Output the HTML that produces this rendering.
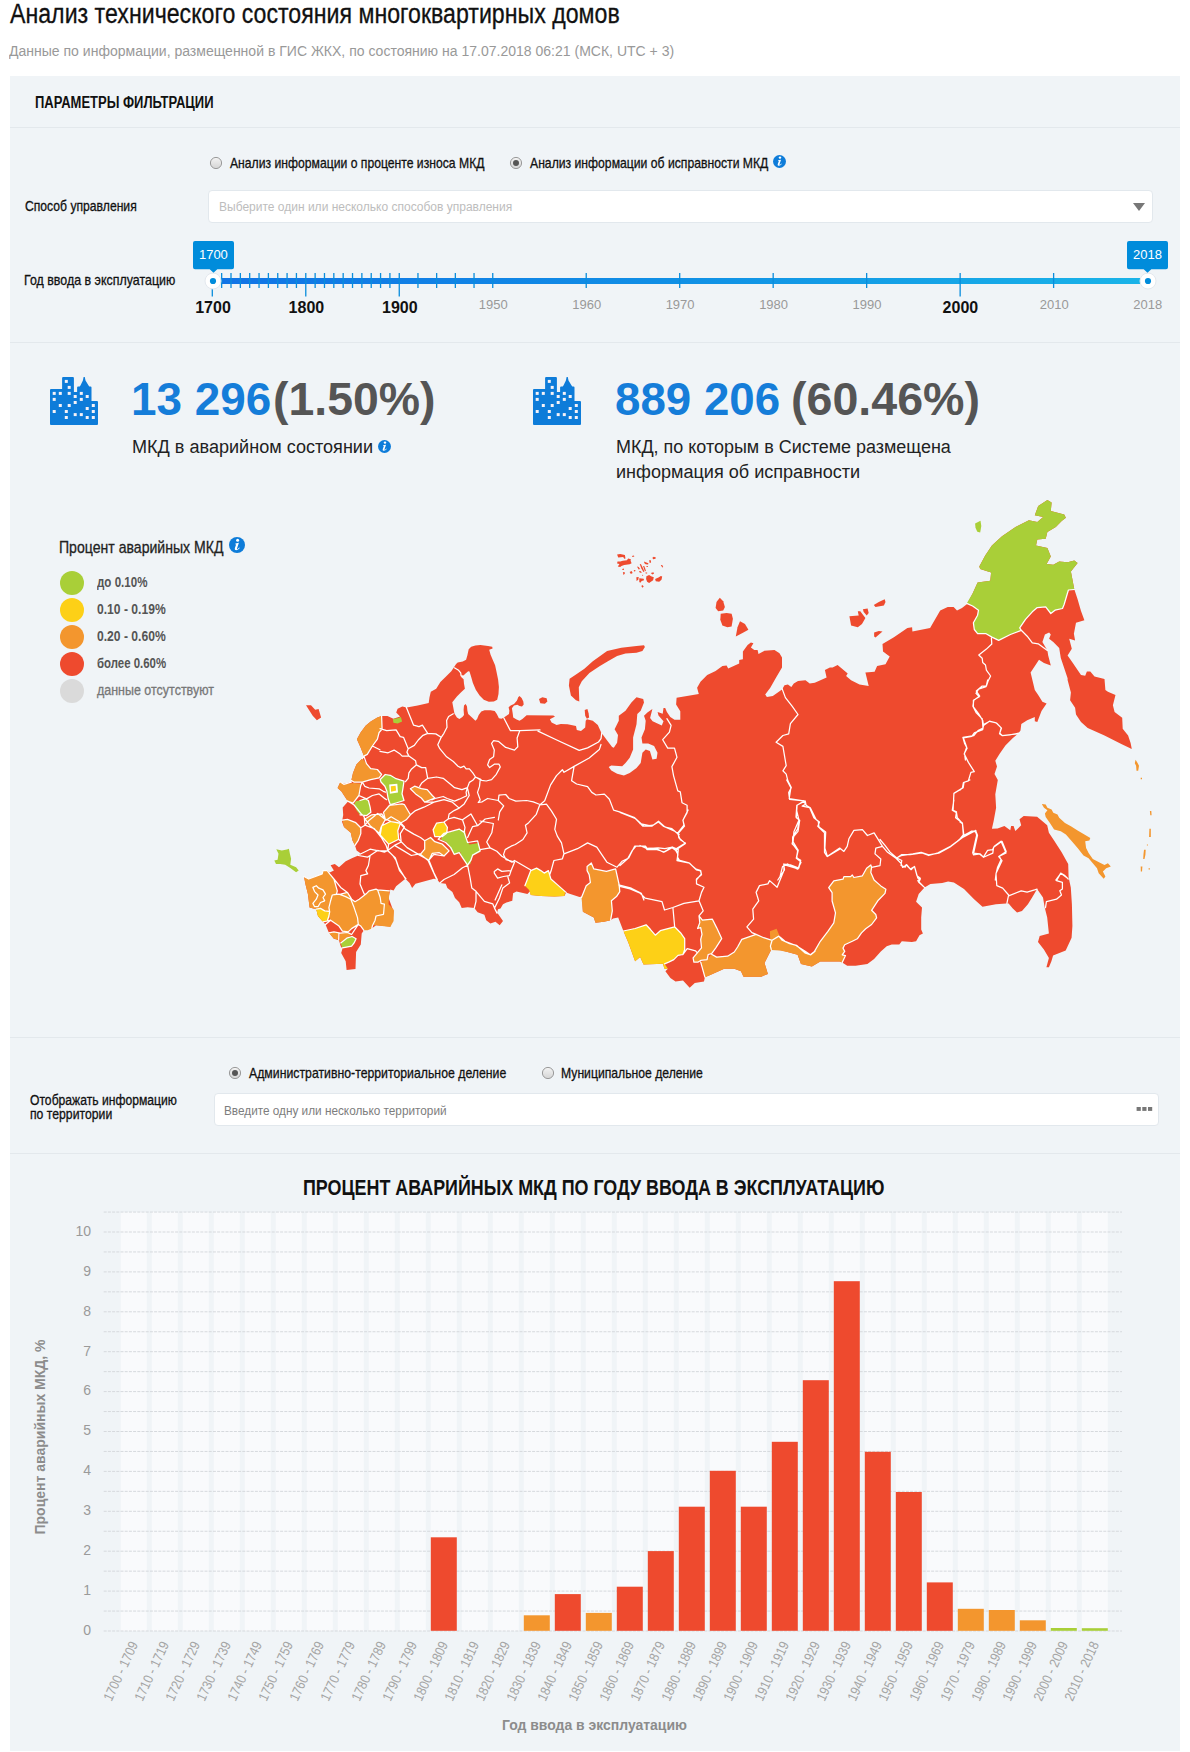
<!DOCTYPE html>
<html lang="ru"><head><meta charset="utf-8"><title>Анализ технического состояния многоквартирных домов</title>
<style>
html,body{margin:0;padding:0;background:#fff;}
body{width:1190px;height:1752px;position:relative;overflow:hidden;font-family:"Liberation Sans",sans-serif;}
.abs{position:absolute;display:block;}
.t{position:absolute;white-space:nowrap;line-height:1;display:block;}
.panel{position:absolute;left:10px;top:76px;width:1170px;height:1675px;background:#f0f4f7;}
.hr{position:absolute;left:10px;width:1170px;height:1px;background:#e3e8ec;}
.box{position:absolute;background:#fff;border:1px solid #e2e8ed;border-radius:4px;box-sizing:border-box;}
</style></head><body>
<div class="panel"></div>
<div class="hr" style="top:127px"></div>
<div class="hr" style="top:342px"></div>
<div class="hr" style="top:1037px"></div>
<div class="hr" style="top:1153px"></div>
<div class="box" style="left:208px;top:190px;width:945px;height:33px"></div>
<svg class="abs" style="left:1132px;top:202px" width="14" height="10" viewBox="0 0 14 10"><path d="M1 1h12L7 9z" fill="#777"/></svg>
<div class="box" style="left:214px;top:1093px;width:945px;height:33px"></div>
<svg class="abs" style="left:1136px;top:1106px" width="18" height="6" viewBox="0 0 18 6"><rect x="0.600" y="1" width="4.200" height="3.900" fill="#777"/><rect x="6.300" y="1" width="4.200" height="3.900" fill="#777"/><rect x="12" y="1" width="4.200" height="3.900" fill="#777"/></svg>
<svg class="abs" style="left:208.9px;top:156.4px" width="14" height="14" viewBox="0 0 14 14"><defs><linearGradient id="rg215" x1="0" y1="0" x2="0" y2="1"><stop offset="0" stop-color="#f4f4f4"/><stop offset="1" stop-color="#d4d4d4"/></linearGradient></defs><circle cx="7" cy="7" r="5.600" fill="url(#rg215)" stroke="#9a9a9a" stroke-width="1"/></svg><svg class="abs" style="left:508.9px;top:156.4px" width="14" height="14" viewBox="0 0 14 14"><defs><linearGradient id="rg515" x1="0" y1="0" x2="0" y2="1"><stop offset="0" stop-color="#f4f4f4"/><stop offset="1" stop-color="#d4d4d4"/></linearGradient></defs><circle cx="7" cy="7" r="5.600" fill="url(#rg515)" stroke="#9a9a9a" stroke-width="1"/><circle cx="7" cy="7" r="3" fill="#555"/></svg><svg class="abs" style="left:228.0px;top:1066.4px" width="14" height="14" viewBox="0 0 14 14"><defs><linearGradient id="rg235" x1="0" y1="0" x2="0" y2="1"><stop offset="0" stop-color="#f4f4f4"/><stop offset="1" stop-color="#d4d4d4"/></linearGradient></defs><circle cx="7" cy="7" r="5.600" fill="url(#rg235)" stroke="#9a9a9a" stroke-width="1"/><circle cx="7" cy="7" r="3" fill="#555"/></svg><svg class="abs" style="left:541.0px;top:1066.4px" width="14" height="14" viewBox="0 0 14 14"><defs><linearGradient id="rg548" x1="0" y1="0" x2="0" y2="1"><stop offset="0" stop-color="#f4f4f4"/><stop offset="1" stop-color="#d4d4d4"/></linearGradient></defs><circle cx="7" cy="7" r="5.600" fill="url(#rg548)" stroke="#9a9a9a" stroke-width="1"/></svg>
<svg class="abs" style="left:772.8px;top:154.6px" width="13.0" height="13.0" viewBox="0 0 16 16"><circle cx="8" cy="8" r="8" fill="#0e7cd9"/><circle cx="8.600" cy="3.200" r="1.500" fill="#fff"/><path d="M6.400 6.600L9.900 5.700 8 11.400Q7.800 12.200 8.600 12 9.400 11.600 10.300 10.600L10.800 11.100Q9.200 13.200 7.200 13.300 5.300 13.200 5.800 11.300L7.200 7.300 6.300 7.400Z" fill="#fff"/></svg><svg class="abs" style="left:377.9px;top:439.5px" width="13.0" height="13.0" viewBox="0 0 16 16"><circle cx="8" cy="8" r="8" fill="#0e7cd9"/><circle cx="8.600" cy="3.200" r="1.500" fill="#fff"/><path d="M6.400 6.600L9.900 5.700 8 11.400Q7.800 12.200 8.600 12 9.400 11.600 10.300 10.600L10.800 11.100Q9.200 13.200 7.200 13.300 5.300 13.200 5.800 11.300L7.200 7.300 6.300 7.400Z" fill="#fff"/></svg><svg class="abs" style="left:228.6px;top:537.0px" width="16" height="16" viewBox="0 0 16 16"><circle cx="8" cy="8" r="8" fill="#0e7cd9"/><circle cx="8.600" cy="3.200" r="1.500" fill="#fff"/><path d="M6.400 6.600L9.900 5.700 8 11.400Q7.800 12.200 8.600 12 9.400 11.600 10.300 10.600L10.800 11.100Q9.200 13.200 7.200 13.300 5.300 13.200 5.800 11.300L7.200 7.300 6.300 7.400Z" fill="#fff"/></svg>
<svg class="abs" style="left:0;top:230px" width="1190" height="100" viewBox="0 230 1190 100"><defs><linearGradient id="trk" x1="0" y1="0" x2="1" y2="0"><stop offset="0" stop-color="#1273e6"/><stop offset="0.5" stop-color="#1090e5"/><stop offset="1" stop-color="#1ab4e8"/></linearGradient></defs><rect x="212.3" y="278" width="935.7" height="6" fill="url(#trk)"/><rect x="211.65" y="273" width="1.3" height="23.5" fill="#0a8ddc"/><rect x="221.00" y="273" width="1.3" height="15" fill="#0a8ddc"/><rect x="230.35" y="273" width="1.3" height="15" fill="#0a8ddc"/><rect x="239.69" y="273" width="1.3" height="15" fill="#0a8ddc"/><rect x="249.04" y="273" width="1.3" height="15" fill="#0a8ddc"/><rect x="258.39" y="273" width="1.3" height="15" fill="#0a8ddc"/><rect x="267.74" y="273" width="1.3" height="15" fill="#0a8ddc"/><rect x="277.09" y="273" width="1.3" height="15" fill="#0a8ddc"/><rect x="286.43" y="273" width="1.3" height="15" fill="#0a8ddc"/><rect x="295.78" y="273" width="1.3" height="15" fill="#0a8ddc"/><rect x="305.13" y="273" width="1.3" height="23.5" fill="#0a8ddc"/><rect x="314.48" y="273" width="1.3" height="15" fill="#0a8ddc"/><rect x="323.83" y="273" width="1.3" height="15" fill="#0a8ddc"/><rect x="333.17" y="273" width="1.3" height="15" fill="#0a8ddc"/><rect x="342.52" y="273" width="1.3" height="15" fill="#0a8ddc"/><rect x="351.87" y="273" width="1.3" height="15" fill="#0a8ddc"/><rect x="361.22" y="273" width="1.3" height="15" fill="#0a8ddc"/><rect x="370.57" y="273" width="1.3" height="15" fill="#0a8ddc"/><rect x="379.91" y="273" width="1.3" height="15" fill="#0a8ddc"/><rect x="389.26" y="273" width="1.3" height="15" fill="#0a8ddc"/><rect x="398.61" y="273" width="1.3" height="23.5" fill="#0a8ddc"/><rect x="417.31" y="273" width="1.3" height="15" fill="#0a8ddc"/><rect x="436.00" y="273" width="1.3" height="15" fill="#0a8ddc"/><rect x="454.70" y="273" width="1.3" height="15" fill="#0a8ddc"/><rect x="473.39" y="273" width="1.3" height="15" fill="#0a8ddc"/><rect x="492.09" y="273" width="1.3" height="15" fill="#0a8ddc"/><rect x="585.57" y="273" width="1.3" height="15" fill="#0a8ddc"/><rect x="679.05" y="273" width="1.3" height="15" fill="#0a8ddc"/><rect x="772.53" y="273" width="1.3" height="15" fill="#0a8ddc"/><rect x="866.01" y="273" width="1.3" height="15" fill="#0a8ddc"/><rect x="959.49" y="273" width="1.3" height="23.5" fill="#0a8ddc"/><rect x="1052.97" y="273" width="1.3" height="15" fill="#0a8ddc"/><rect x="1146.45" y="273" width="1.3" height="15" fill="#0a8ddc"/><circle cx="213" cy="281" r="8" fill="#fff" stroke="#e3e8ee" stroke-width="1"/><circle cx="213" cy="281" r="3.1" fill="#008cdb"/><circle cx="1148" cy="281" r="8" fill="#fff" stroke="#e3e8ee" stroke-width="1"/><circle cx="1148" cy="281" r="3.1" fill="#008cdb"/><path d="M195 241h37a2 2 0 0 1 2 2v24.200a2 2 0 0 1-2 2h-14.700l-3.800 3.600-3.800-3.600h-14.700a2 2 0 0 1-2-2v-24.200a2 2 0 0 1 2-2z" fill="#008cdb"/><path d="M1129 241h37a2 2 0 0 1 2 2v24.200a2 2 0 0 1-2 2h-14.700l-3.800 3.600-3.800-3.600h-14.700a2 2 0 0 1-2-2v-24.200a2 2 0 0 1 2-2z" fill="#008cdb"/></svg>
<svg class="abs" style="left:49.9px;top:377px" width="48" height="48" viewBox="0 0 48 48"><path fill="#0e7cd9" d="M1 48a1 1 0 0 1-1-1V13.100a1 1 0 0 1 1-1h11.100V1a1 1 0 0 1 1-1h9.800a1 1 0 0 1 1 1v14h3.200V10.400a1 1 0 0 1 1-1h1.600l.9-1.200 2.300-4.700.7-3.500h1.200l.7 3.500 2.900 4.700.9 1.200h1.200a1 1 0 0 1 1 1v13.700h5.500a1 1 0 0 1 1 1V47a1 1 0 0 1-1 1z"/><g fill="#f6f2f7"><rect x="14.8" y="2.9" width="3" height="3"/><rect x="17.7" y="8.9" width="3" height="3"/><rect x="2.7" y="14.9" width="3" height="3"/><rect x="8.8" y="14.9" width="3" height="3"/><rect x="17.7" y="14.9" width="3" height="3"/><rect x="29.8" y="14.9" width="3" height="3"/><rect x="23.7" y="18.0" width="3" height="3"/><rect x="35.7" y="18.0" width="3" height="3"/><rect x="2.7" y="20.9" width="3" height="3"/><rect x="29.8" y="20.9" width="3" height="3"/><rect x="23.7" y="24.0" width="3" height="3"/><rect x="8.8" y="27.0" width="3" height="3"/><rect x="17.7" y="27.0" width="3" height="3"/><rect x="41.8" y="27.0" width="3" height="3"/><rect x="35.7" y="30.0" width="3" height="3"/><rect x="2.7" y="33.0" width="3" height="3"/><rect x="14.8" y="33.0" width="3" height="3"/><rect x="41.8" y="33.0" width="3" height="3"/><rect x="23.7" y="36.1" width="3" height="3"/><rect x="29.8" y="36.1" width="3" height="3"/><rect x="14.8" y="39.0" width="3" height="3"/><rect x="35.7" y="39.0" width="3" height="3"/><rect x="41.8" y="39.0" width="3" height="3"/></g></svg><svg class="abs" style="left:533.3px;top:377px" width="48" height="48" viewBox="0 0 48 48"><path fill="#0e7cd9" d="M1 48a1 1 0 0 1-1-1V13.100a1 1 0 0 1 1-1h11.100V1a1 1 0 0 1 1-1h9.800a1 1 0 0 1 1 1v14h3.200V10.400a1 1 0 0 1 1-1h1.600l.9-1.200 2.300-4.700.7-3.500h1.200l.7 3.500 2.900 4.700.9 1.200h1.200a1 1 0 0 1 1 1v13.700h5.500a1 1 0 0 1 1 1V47a1 1 0 0 1-1 1z"/><g fill="#f6f2f7"><rect x="14.8" y="2.9" width="3" height="3"/><rect x="17.7" y="8.9" width="3" height="3"/><rect x="2.7" y="14.9" width="3" height="3"/><rect x="8.8" y="14.9" width="3" height="3"/><rect x="17.7" y="14.9" width="3" height="3"/><rect x="29.8" y="14.9" width="3" height="3"/><rect x="23.7" y="18.0" width="3" height="3"/><rect x="35.7" y="18.0" width="3" height="3"/><rect x="2.7" y="20.9" width="3" height="3"/><rect x="29.8" y="20.9" width="3" height="3"/><rect x="23.7" y="24.0" width="3" height="3"/><rect x="8.8" y="27.0" width="3" height="3"/><rect x="17.7" y="27.0" width="3" height="3"/><rect x="41.8" y="27.0" width="3" height="3"/><rect x="35.7" y="30.0" width="3" height="3"/><rect x="2.7" y="33.0" width="3" height="3"/><rect x="14.8" y="33.0" width="3" height="3"/><rect x="41.8" y="33.0" width="3" height="3"/><rect x="23.7" y="36.1" width="3" height="3"/><rect x="29.8" y="36.1" width="3" height="3"/><rect x="14.8" y="39.0" width="3" height="3"/><rect x="35.7" y="39.0" width="3" height="3"/><rect x="41.8" y="39.0" width="3" height="3"/></g></svg>
<div class="abs" style="left:60px;top:571.0px;width:24px;height:24px;border-radius:50%;background:#a9cf38"></div><div class="abs" style="left:60px;top:598.0px;width:24px;height:24px;border-radius:50%;background:#fdd017"></div><div class="abs" style="left:60px;top:625.0px;width:24px;height:24px;border-radius:50%;background:#f3962e"></div><div class="abs" style="left:60px;top:652.0px;width:24px;height:24px;border-radius:50%;background:#ee4a2e"></div><div class="abs" style="left:60px;top:679.0px;width:24px;height:24px;border-radius:50%;background:#dadada"></div>
<svg class="abs" style="left:0;top:490px" width="1190" height="520" viewBox="0 490 1190 520"><path d="M456.1,664 L457.7,662.4 L462.8,661.5 L466.1,659.8 L467.4,655.2 L468.7,649.3 L471.2,646.8 L475.4,645.4 L480.4,645.1 L488,646 L492.2,646.8 L492.6,648.5 L489.2,649.7 L490.5,654.4 L492.6,659.4 L495.1,665.3 L496.4,671.2 L498.1,679.6 L498.9,687.1 L498.5,693.9 L497.2,699.7 L493.9,701.4 L488.8,701.8 L483.8,699.7 L479.6,695.5 L475.8,689.7 L472.9,682.9 L471.2,677.1 L469.5,671.6 L468.2,671.2 L465.3,673.7 L463.2,675.8 L461.5,675.4 L461.1,677.1 L463.6,679.2 L464,683.8 L464.9,688.8 L461.1,692.2 L456.9,696.4 L452.3,702.3 L453.1,706.5 L453.9,710.7 L454.4,713.6 L456.9,717.4 L459.4,719.1 L462.4,717 L464,714.9 L463.6,709.8 L464,705.6 L465.7,703.9 L467,706.5 L467.4,710.7 L468.2,714 L472,717.4 L475.4,720.8 L477.1,719.1 L478.7,714.9 L481.3,711.5 L484.6,710.3 L490.5,710.3 L494.7,711.1 L496.8,714 L498.9,718.2 L501.4,718.7 L503.9,717.4 L509,714 L509.4,710.7 L508.6,707.3 L510.7,705.6 L514,703.9 L517,700.6 L518.2,697.2 L519.5,696 L521.6,698.1 L523.3,701.4 L523.7,704.4 L522,706.5 L519.5,706.1 L517.4,704.8 L514,705.6 L511.9,708.2 L512.8,714 L513.2,717.4 L516.6,719.5 L519.5,720.8 L522.4,719.1 L526.6,715.3 L553.3,715.5 L555,716.6 L549.9,719.2 L551.6,722.5 L556.6,725 L560.8,723.9 L567.6,724.2 L576,725.9 L576.8,730.1 L581,730.9 L585.2,727.6 L585.7,720.8 L586.9,719.2 L592.8,720.8 L597.8,725 L601.2,732.6 L606.2,739.3 L612.1,746.9 L613.8,747.7 L617.1,742.7 L618,735.1 L614.6,729.2 L618.8,720.8 L618.8,715.8 L625.5,710.8 L631.4,702.4 L636.5,697.3 L643.2,699 L644,702.4 L640.7,710.8 L637.3,714.1 L636.5,724.2 L633.1,737.6 L633.1,749.4 L629.7,757.8 L625.5,762.9 L622.2,766.2 L611.3,765.4 L608.7,767.1 L611.3,770.4 L617.1,773.8 L623.9,775.5 L629.7,772.9 L636.5,767.9 L640.7,762.9 L642.4,752.8 L645.7,749.4 L649.9,751.1 L652.4,759.5 L656.6,758.7 L657.5,752.8 L654.1,746.1 L648.2,743.5 L642.4,743.5 L641.5,737.6 L644.9,729.2 L645.7,720.8 L644,715.8 L647.4,712.4 L652.4,709.1 L650.1,718 L652.6,721.3 L661.8,725.5 L663.5,721.3 L658.5,715.5 L657.6,712.1 L662.7,713.8 L663.5,707.9 L665.2,707.9 L666.9,712.1 L670.3,717.1 L674.5,719.7 L680.3,719.7 L680.3,711.3 L676.1,704.5 L676.6,697.8 L698.8,693.9 L697.1,687.7 L700.5,681.8 L707.2,675.1 L715.6,670.9 L722.4,665.9 L726.6,665.5 L728.2,668.4 L739.2,663.4 L739.2,660 L742.9,659.2 L742.9,651.6 L747.6,644.9 L750.9,642.4 L753.4,643.2 L750.9,647.4 L754.3,649.9 L757.6,649.9 L758.5,654.1 L764.4,650.8 L774.5,649.9 L779.5,653.3 L782,657.5 L782,667.6 L776.1,677.6 L770.3,687.7 L765.2,694.5 L766.9,697 L772.8,696.1 L782,689.4 L784.5,685.2 L787.9,684.4 L791.3,686.9 L793.8,683.5 L798,681 L805.5,680.2 L809.7,683.5 L814.8,682.7 L826.6,677.6 L824.9,670.1 L829.9,667.6 L832.6,667.6 L837.6,665 L847.7,673.4 L846.1,676 L851.1,680.2 L859.5,684.4 L868.7,686.1 L865.4,672.6 L874.6,671.8 L877.1,665.9 L885.5,664.2 L889.7,656.6 L883,651.6 L882.5,644 L893.9,637.3 L907.4,628.1 L912.1,627.2 L912.4,631.4 L930.1,628.1 L940.2,610.4 L947.7,607.1 L953.6,607.1 L957,610.4 L962,607.9 L967.1,604 L972.6,593.4 L977.6,582.4 L990.3,580.8 L991.1,572.4 L980.2,569 L979.3,566.5 L985.2,555.5 L991.9,545.5 L1002,536.2 L1015.5,527 L1028.9,520.3 L1037.3,521.9 L1043.2,516.9 L1034.8,515.2 L1038.2,506 L1047.4,500.1 L1051.6,502.6 L1050.8,511 L1064.2,514.4 L1065.9,517.7 L1061.7,521.1 L1055.8,527 L1047.4,532 L1045.7,538.7 L1037.3,539.6 L1036,545.5 L1047.4,548 L1050.8,556.4 L1046.6,563.9 L1053.3,564.8 L1059.2,561.4 L1067.6,562.3 L1074.3,560.6 L1077.6,563.1 L1070.9,571.5 L1074.3,589.2 L1077.6,599.2 L1081,611 L1084.4,620.3 L1076,622.8 L1073.9,633.7 L1075.1,640.4 L1069.2,638.7 L1071.8,648.8 L1067.6,655.5 L1071.8,661.4 L1081,674.9 L1085.2,675.7 L1086.9,671.5 L1090.3,671.5 L1094.5,676.6 L1104.5,679.1 L1105.4,690 L1107.9,691.8 L1115.5,695.1 L1112.9,705.2 L1114.6,711.9 L1122.2,717.8 L1122.7,728.7 L1128.1,735.5 L1130.6,743 L1131.8,748.9 L1121.3,743.9 L1104.5,735.5 L1087.7,727.9 L1081,722 L1076,714.5 L1075.1,707.7 L1070.1,700.2 L1070.9,692.6 L1067.6,680 L1067.6,678.2 L1060.8,658.1 L1059.2,648 L1053.3,642.1 L1049.1,638.7 L1050.8,634.5 L1049.1,632.5 L1044.9,634.5 L1042.4,642.1 L1047.4,650.5 L1048.2,655.5 L1050.8,665.6 L1044,663.1 L1039,659.7 L1030.6,672.4 L1034.8,690 L1038.2,695.1 L1042.4,701.8 L1046.6,703.5 L1041.5,711.1 L1037.3,722 L1034.8,721.2 L1034.8,717 L1027.2,720.3 L1021.3,724 L1020.5,730.4 L1018,733.8 L1012.9,738 L1005.4,745.5 L999.5,753.9 L995.3,760.7 L997,766.6 L994.5,774.1 L997.8,780 L995.3,794.3 L996.1,807.7 L993.6,821.2 L991.9,828.7 L997.6,828.6 L1004.4,826.1 L1010.3,830.3 L1011.1,826.1 L1013.6,826.1 L1015.3,831.1 L1021.2,825.2 L1019.5,819.3 L1023.7,816 L1037.1,816.8 L1041.3,820.2 L1047.2,825.2 L1048.9,832.8 L1053.9,840.3 L1061.5,852.1 L1068.2,863.9 L1068.6,877.3 L1070.8,887.4 L1071.9,904.2 L1072.4,926.1 L1071.6,937.8 L1065.7,950.4 L1053.1,955.5 L1051.4,961.3 L1048.9,967.2 L1046.4,967.2 L1048.9,958 L1043.9,949.6 L1038,942 L1039.7,936.1 L1048.9,933.6 L1047.2,917.6 L1044.7,907.6 L1043,897.5 L1037.1,889.1 L1032.1,897.5 L1027.9,904.2 L1022,910.9 L1017,912.6 L1012.8,908.4 L1008.6,903.4 L1006.1,903.4 L996,904.2 L982.5,906.7 L974.1,899.2 L964,889.1 L953.9,882.4 L948.1,881.5 L942.2,882.9 L930.4,884 L924.5,887.4 L918.7,894.1 L916.1,901.7 L922,907.6 L921.2,917.6 L921.2,929.4 L922.9,933.6 L919.5,935.3 L916.1,941.2 L911.9,942 L901.8,941.2 L899.3,944.5 L891.8,944.5 L886.7,946.2 L880.8,951.4 L874.1,959 L867.4,964 L855.6,965.7 L847.2,965.7 L842.2,962.4 L839.7,961.5 L820.3,961.5 L811.9,966.6 L801,964 L797.6,954.8 L788.4,952.3 L781.3,950.3 L771.3,949.5 L764.5,962.9 L767.9,973.9 L761.2,976.7 L743.5,976.7 L741,971.3 L734.3,968.8 L724.2,968.8 L710.8,974.7 L704.9,977.2 L704,981.4 L694.8,983.1 L689.7,987.8 L683,980.6 L675.5,981.4 L670.4,978.1 L665.4,971.3 L667.9,968.8 L664.5,968.8 L662.9,963.8 L643.5,964.6 L640.2,957.1 L635.1,961.3 L628.4,942.8 L623.4,931 L618.2,917.6 L613.1,918.5 L610.6,920.2 L603.9,921.8 L595.5,922.7 L593.8,917.6 L582.9,911.8 L582,896.6 L579.5,897.1 L570.3,894.1 L566.1,892.4 L564.4,896.1 L554.3,896.6 L540.8,896.1 L530.8,895 L529.9,891.6 L527.4,894.1 L516.5,891.6 L513.1,893.3 L512.3,900.8 L506.4,902.5 L503,904.2 L500.5,908.4 L498,909.2 L497.1,912.6 L503,921 L499.7,925.2 L495.5,921.8 L490.4,923.5 L486.2,920.2 L484.4,914.8 L477.6,912.3 L474.3,908.1 L467.6,907.2 L461.7,908.1 L459.2,902.2 L455,898 L452.4,892.1 L447.4,887.9 L445.7,883.7 L439.8,882.9 L437.3,879.5 L433.9,878.7 L415.5,883.7 L412.1,887.9 L409.6,882.9 L405.4,878.7 L396.1,886.2 L393.6,890.4 L390.3,889.6 L388.6,898 L393.6,911.4 L392.8,919 L390.3,926.6 L376,925.2 L371.8,928.6 L363.9,930.3 L361.7,933.6 L360.8,944.5 L356.1,952.1 L355.5,968.9 L346.6,970.1 L345.7,961.3 L341.2,952.9 L342.4,948.7 L340.7,946.2 L339,940.3 L333.9,938.7 L328.9,932.8 L325.5,924.4 L323,921.8 L318,916 L316.3,909.2 L309.6,907.6 L307.9,894.1 L305.4,884 L304,876.5 L308.7,879 L315.5,876.5 L322.2,873.9 L323,870.6 L327.2,870.6 L329.7,872.6 L333.9,870.6 L330.6,865.2 L334.8,863.9 L339,867.2 L345.7,861.3 L352.4,858 L358.3,855.5 L360.8,853.4 L356.6,850.4 L355,845.4 L352.4,840.3 L350.8,832.8 L344,826.9 L342,821.8 L343.2,815.1 L342.7,807.6 L348,801.4 L341.3,791.3 L337.6,788 L340.4,782.1 L343.8,783.8 L351.3,782.1 L351.3,780.4 L353,772.9 L356.4,764.5 L362.3,758.6 L363.9,756.1 L360.6,747.6 L356.9,739.2 L360.6,732.5 L365.6,725.8 L370.7,721.6 L377.4,717.4 L381.6,716.1 L387.5,716.1 L393.4,718.7 L400.1,716.6 L396.2,712.4 L397.6,708.7 L402.3,706.5 L406.8,707.6 L417.7,705.6 L428.7,703.1 L429.5,697.2 L430.8,691.8 L436.2,688.8 L440.4,682.1 L445.5,677.1 L451.3,671.2Z" fill="#ee4a2e"/><path d="M966.7,603.4 L972.6,593.4 L977.6,582.4 L990.3,580.8 L991.1,572.4 L980.2,569 L979.3,566.5 L985.2,555.5 L991.9,545.5 L1002,536.2 L1015.5,527 L1028.9,520.3 L1037.3,521.9 L1043.2,516.9 L1034.8,515.2 L1038.2,506 L1047.4,500.1 L1051.6,502.6 L1050.8,511 L1064.2,514.4 L1065.9,517.7 L1061.7,521.1 L1055.8,527 L1047.4,532 L1045.7,538.7 L1037.3,539.6 L1036,545.5 L1047.4,548 L1050.8,556.4 L1046.6,563.9 L1053.3,564.8 L1059.2,561.4 L1067.6,562.3 L1074.3,560.6 L1077.6,563.1 L1070.9,571.5 L1074.3,589.5 L1068.4,590 L1064.2,604.3 L1062.5,608.5 L1055,610.2 L1050.8,613.5 L1045.7,606.8 L1037.3,607.6 L1032.3,611.8 L1025.5,619.4 L1019.7,627.8 L1021.3,630.3 L1010.4,634.5 L998.7,640.4 L991.9,637.1 L986.1,633.7 L977.6,633.7 L974.3,629.5 L973.4,622.8 L977.6,615.2 L978.5,610.2 L972.6,606Z" fill="#a9cf38"/><path d="M524.9,885.7 L530.8,870.6 L536.6,868.1 L540.8,870.6 L544.2,873.1 L548.4,870.6 L550.9,879 L557.6,884.9 L565.2,891.6 L564.4,896.1 L554.3,896.6 L540.8,896.1 L530.8,895 L529.1,889.9Z" fill="#fdd017"/><path d="M587.1,866.4 L591.3,863 L593.8,868.9 L606.4,871.4 L615.6,868.9 L619,884 L619.8,891.6 L616.5,896.6 L611.4,900.8 L612.3,910.9 L610.6,920.2 L603.9,921.8 L595.5,922.7 L593.8,917.6 L582.9,911.8 L581.5,897.5 L586.2,885.7 L590.4,882.4 L589.2,874.8 L587.1,870.6Z" fill="#f3962e"/><path d="M443.4,834.5 L450.1,831.9 L458.5,829.4 L465.2,831.1 L466.9,840.3 L469.4,844.5 L478.7,842.9 L480.3,852.1 L472.8,855.5 L470.3,863.9 L466.9,865.5 L461.8,857.1 L460.2,852.1 L454.3,854.6 L450.1,847.9 L446.7,842 L440.8,839.5Z" fill="#a9cf38"/><path d="M623.4,931 L635.1,928.5 L646.1,924.8 L650.3,929.3 L655.3,935.2 L660.3,930.7 L674.6,926.8 L680.5,932.7 L684.7,938.6 L684.7,949.5 L683,954.5 L678,955.4 L673.8,959.6 L668.7,962.1 L664.5,963.8 L667.9,968.8 L664.5,968.8 L662.9,963.8 L643.5,964.6 L640.2,957.1 L635.1,961.3 L628.4,942.8Z" fill="#fdd017"/><path d="M699,915.9 L702.4,920.1 L712.4,919.2 L716.6,927.6 L721.7,938.6 L715.8,947.8 L711.6,953.7 L708.2,954.5 L707.1,959.6 L700.7,960.4 L698.2,962.1 L693.9,962.1 L693.1,957.9 L697.3,952.9 L701.5,947.8 L700.7,939.4 L702,934.4 L700.7,927.6 L697.6,928.5 L699.8,922.6Z" fill="#f3962e"/><path d="M700.7,962.1 L707.1,959.6 L711.6,954.2 L716.6,957.1 L727.6,956.2 L734.3,952 L737.6,947 L741.8,939.4 L756.1,934.4 L763.7,937.7 L772.1,940.3 L770.4,946.1 L771.3,949.5 L764.5,962.9 L767.9,973.9 L761.2,976.7 L743.5,976.7 L741,971.3 L734.3,968.8 L724.2,968.8 L710.8,974.7 L704.9,977.2Z" fill="#f3962e"/><path d="M769.9,931.3 L776.6,928.7 L780,937.1 L785,941.3 L796,945.5 L805.2,951.4 L810.3,954.8 L814.5,951.4 L820.3,941.3 L827.9,931.3 L833.8,922.9 L835.5,912.8 L832.1,901 L832.1,892.6 L828.7,887.6 L833.8,880.8 L843,879.2 L843.9,876.6 L850.6,876.6 L852.3,875 L853.9,877.5 L862.4,875.8 L866.6,868.2 L870.8,864.9 L871.6,867.4 L870.8,872.4 L874.1,880 L880.8,885.9 L885.9,889.2 L885,893.4 L878.3,900.2 L871.6,910.3 L875.8,914.5 L876.6,917.8 L871.6,924.5 L865.7,928.7 L861.5,932.9 L857.3,938.8 L852.3,941.3 L844.7,944.7 L843,948.1 L844.7,951.4 L842.2,954.8 L845.5,955.6 L842.2,962.4 L839.7,961.5 L820.3,961.5 L811.9,966.6 L801,964 L797.6,954.8 L788.4,952.3 L780,950.6 L770.8,950.1 L770.3,941.3Z" fill="#f3962e"/><path d="M380.2,779.5 L385.2,774.5 L390.3,775.3 L396.1,778.7 L404,781.2 L402.9,788.7 L402,793.8 L404,800.5 L396.1,803 L390.3,804.7 L388.2,798.8 L386.9,791.3 L384.9,786.2 L381,782Z" fill="#a9cf38"/><path d="M389.2,784.4 L397.3,783.7 L398,792.4 L389.9,793.8Z" fill="#fff"/><path d="M390.8,786.2 L395.6,785.7 L396.1,790.4 L391.1,791.8Z" fill="#fdd017"/><path d="M360,800.5 L365,798.8 L368.4,800.5 L370.1,807.2 L370.9,812.3 L366.7,815.6 L360,814.8 L356.6,810.6 L354.1,804.7 L355.8,801.3Z" fill="#a9cf38"/><path d="M381.6,716.1 L377.4,717.4 L370.7,721.6 L365.6,725.8 L360.6,732.5 L356.9,739.2 L360.6,747.6 L363.9,756.1 L367.3,754.4 L372.4,746 L377.4,739.2 L379.1,732.5 L382.1,729.2Z" fill="#f3962e"/><path d="M362.3,758.6 L356.4,764.5 L353,772.9 L351.3,780.4 L353.9,782.1 L362.3,782.1 L370.7,779.6 L379.1,777.9 L381.6,774.5 L377.4,769.5 L370.7,768.7 L366.5,763.6Z" fill="#f3962e"/><path d="M340.4,782.1 L337.6,788 L341.3,791.3 L348,801.4 L353,803.1 L358.9,795.5 L360.6,786.3 L361.4,783.8 L353.9,782.9 L343.8,784.3Z" fill="#f3962e"/><path d="M410.4,788.7 L414.6,786.2 L421.3,788.7 L427.2,789.6 L432.3,795.5 L434.8,798 L424.7,802.2 L421.3,798 L416.3,794.6Z" fill="#f3962e"/><path d="M383.5,812.3 L389.4,805.5 L402,803.9 L404.5,804.7 L410.4,814.8 L406.2,819.8 L400.3,823.2 L391.1,821.5 L385.2,819Z" fill="#f3962e"/><path d="M365,819 L371.8,814.8 L381.8,813.9 L385.2,819.8 L381,827.4 L379.3,833.3 L370.1,825.7Z" fill="#f3962e"/><path d="M380.2,835 L381.8,825.7 L390.3,821.5 L400.3,823.5 L397.8,830.8 L398.7,839.2 L388.6,844.2Z" fill="#fdd017"/><path d="M433.1,829.9 L436.5,823.2 L444,822 L447.4,827.4 L446.6,833.3 L442.4,836.6 L434.8,836.6Z" fill="#fdd017"/><path d="M424.7,840.8 L430.6,837.5 L434.8,841.7 L442.4,844.2 L449.1,850.9 L444,856 L439,852.6 L432.3,853.4 L428.9,860.2 L419.7,855.1 L424.7,849.2Z" fill="#f3962e"/><path d="M342.4,820.2 L347.4,819.3 L355.8,822.7 L360.8,827.7 L360.8,833.6 L358.3,840.3 L355,845.4 L352.4,840.3 L350.8,832.8 L344,826.9Z" fill="#f3962e"/><path d="M304,876.5 L308.7,879 L315.5,876.5 L322.2,873.9 L323,870.6 L327.2,870.6 L329.7,873.9 L333.9,879 L337.3,890.8 L336.5,894.1 L332.3,895 L330.6,900.8 L328.9,907.6 L329.7,911.8 L328.9,916 L327.2,921 L323,921.8 L318,916 L316.3,909.2 L309.6,907.6 L307.9,894.1 L305.4,884Z" fill="#f3962e"/><path d="M316.3,909.2 L320.5,908.4 L324.7,910.9 L329.2,911.3 L329.7,917.6 L327.2,921 L323,921.8 L318,916Z" fill="#fdd017"/><path d="M332.3,895 L339,894.1 L345.7,896.6 L350.8,899.2 L354.1,907.6 L357.5,917.6 L358.3,924.4 L351.6,928.6 L348.2,931.9 L342.4,931.1 L339,926.1 L330.6,920.2 L328.9,916 L329.7,911.8 L328.9,907.6 L330.6,900.8Z" fill="#f3962e"/><path d="M340.7,894.1 L347.4,892.4 L351.6,899.2 L355,901.7 L359.2,899.2 L365.9,894.1 L369.2,890.8 L376,889.1 L377.6,889.9 L380.2,897.5 L381,903.4 L384.4,904.2 L383.5,914.3 L376,916 L375.1,920.2 L372.6,925.2 L371.8,928.6 L367.6,930.3 L363.9,930.3 L360.8,926.1 L358.3,924.4 L357.5,917.6 L354.1,907.6 L350.8,899.2 L345.7,896.6Z" fill="#f3962e"/><path d="M377.6,889.9 L389.4,890.8 L388.6,904.2 L393.9,910.1 L393.6,921 L390.3,926.9 L376,925.2 L372.6,925.2 L375.1,920.2 L376,916 L383.5,914.3 L384.4,904.2 L381,903.4 L380.2,897.5Z" fill="#f3962e"/><path d="M328.9,932.8 L333.9,931.9 L339,932.8 L338.7,939.5 L333.9,938.7Z" fill="#f3962e"/><path d="M340.3,933.1 L347.4,932.4 L351.6,934.5 L347.4,937.8 L340.7,942 L339.3,940.3Z" fill="#f3962e"/><path d="M340.7,942.9 L347.4,937.8 L352.1,936.5 L356.1,938.7 L354.1,942.9 L351.6,946.2 L342.4,947.9Z" fill="#a9cf38"/><path d="M392.9,719.1 L397.6,718.2 L400.9,717.1 L402.1,721.6 L397.6,723.6 L393.4,722.8Z" fill="#a9cf38"/><path d="M306,705.3 L311,705.3 L315.2,709.8 L318.6,709 L321.1,717.4 L316.9,720.3 L312.7,715.7Z" fill="#ee4a2e"/><path d="M276.3,849.2 L281.8,850.4 L286.9,849.6 L288.9,848.7 L289.9,853.8 L291.1,858.8 L290.3,864.7 L296.1,867.2 L298.7,870.6 L296.1,872.3 L290.3,868.1 L285.2,864.7 L280.2,863.9 L276,863.9 L274.3,860.5 L277.6,859.7 L278.5,853.8Z" fill="#a9cf38"/><path d="M644,645.2 L644.9,646.9 L642.4,651.1 L636.5,652.8 L625.5,653.6 L617.1,656.1 L607.9,661.2 L599.5,666.2 L589.4,672.9 L581.8,681.3 L578.8,687.2 L579.3,701.5 L576,700.3 L570.9,695.6 L568.9,685.5 L569.6,678.8 L576,674.6 L584.4,668.7 L592.8,661.2 L607.1,651.1 L621.3,647.7 L636.5,646.1Z" fill="#ee4a2e"/><path d="M539,699 L542.4,697.3 L546.6,698.2 L547.4,701.5 L544.9,703.7 L540.3,703.2Z" fill="#ee4a2e"/><path d="M584.7,709.9 L587.4,709.1 L588.6,713.3 L589.1,717.5 L586.9,718.8 L585.2,715.8Z" fill="#ee4a2e"/><path d="M719.8,597.8 L723.2,601.2 L724.9,607.1 L723.2,610.4 L718.2,611.3 L715.6,607.9 L716.5,602Z" fill="#ee4a2e"/><path d="M720.7,613.8 L726.6,612.9 L731.6,613.8 L732.9,618.8 L731.6,626.4 L727.4,627.2 L722.4,625.5 L720.3,619.7Z" fill="#ee4a2e"/><path d="M740,621.3 L745,623.9 L748.4,629.7 L742.5,633.1 L735.8,636.5 L737.5,627.2Z" fill="#ee4a2e"/><path d="M873.8,605 L878.8,602 L884.7,599.2 L885.5,602 L883.9,605.4 L875.5,607.1Z" fill="#ee4a2e"/><path d="M849.4,616.3 L858.7,615.5 L857.8,611.3 L860.3,611.3 L865.4,618 L862,623.9 L857.8,627.2 L851.1,625.5Z" fill="#ee4a2e"/><path d="M862.9,609.2 L867.6,608.4 L868.7,612.9 L866.7,615.5 L863.7,612.1Z" fill="#ee4a2e"/><path d="M874.1,632.6 L878.8,630.9 L882.5,631.4 L875.5,637.6 L874.1,636.5Z" fill="#ee4a2e"/><path d="M975.1,523.6 L980.5,520.8 L981.3,526.1 L980.2,532.5 L977.3,531.7 L975.5,527.8Z" fill="#a9cf38"/><path d="M1041.8,804 L1045.7,804.4 L1047.4,807.7 L1051.6,809.4 L1053.3,812.8 L1057.5,814.5 L1059.2,817.8 L1065,822.9 L1070.9,826.2 L1077.6,830.4 L1084.4,834.6 L1090.3,838 L1089.4,840.5 L1085.2,841.3 L1086.1,848.1 L1088.6,853.1 L1092.8,859 L1099.5,862.4 L1104.5,864.9 L1107.9,863.2 L1110.8,866.6 L1106.2,868.2 L1102.9,871.6 L1105.4,876.6 L1103.7,878.7 L1098.7,873.3 L1097,868.2 L1092.8,863.2 L1088.6,858.2 L1083.5,855.6 L1077.6,848.1 L1071.8,841.3 L1065.9,834.6 L1060.8,831.3 L1054.1,829.6 L1049.9,822.9 L1045.7,817 L1044.9,813.6 L1047.4,810.3 L1044,807.7Z" fill="#f3962e"/><path d="M1135.6,759.8 L1137.3,762.4 L1139,765.7 L1138.2,770.8 L1136.5,770.8 L1136.1,765.7 L1134.8,763.2Z" fill="#f3962e"/><path d="M1140.7,777.8 L1142,777.8 L1142,779.2 L1140.7,779.2Z" fill="#f3962e"/><path d="M1149.9,811.1 L1151.3,811.1 L1151.6,815.3 L1150.3,815.3Z" fill="#f3962e"/><path d="M1149.4,828.7 L1150.8,828.7 L1150.8,837.1 L1149.1,837.1Z" fill="#f3962e"/><path d="M1146.9,844.4 L1147.9,844.4 L1147.9,845.5 L1146.9,845.5Z" fill="#f3962e"/><path d="M1144,849.7 L1145.7,849.7 L1145.4,854.8 L1144.5,859 L1143.2,859 L1143.5,853.9Z" fill="#f3962e"/><path d="M1140.7,866.6 L1142.4,866.6 L1142,871.6 L1140.8,871.6Z" fill="#f3962e"/><path d="M1148.6,868.2 L1149.9,868.2 L1149.9,869.6 L1148.6,869.6Z" fill="#f3962e"/><path d="M617.1,554.5 L620.2,554.1 L624.9,555.1 L625.5,558.5 L624.2,558.8 L623.2,557.1 L618.2,557.5Z" fill="#ee4a2e"/><path d="M631.9,556.1 L633.9,555.5 L634.3,556.5 L632.6,557.1Z" fill="#ee4a2e"/><path d="M617.5,561.5 L620.2,561.5 L622.9,560.8 L626.9,560.2 L628.2,558.5 L630.9,559.2 L630.6,560.8 L631.6,563.2 L629.6,564.2 L624.2,564.9 L621.5,565.9 L620.2,566.9 L617.8,566.6 L619.5,563.9 L617.1,563.5Z" fill="#ee4a2e"/><path d="M652.4,557.8 L653.8,556.8 L655.8,557.5 L655.5,558.8 L653.1,559.2Z" fill="#ee4a2e"/><path d="M649.1,560.2 L650.8,560.2 L651.1,562.5 L649.7,562.9Z" fill="#ee4a2e"/><path d="M644,561.5 L645.7,562.2 L648.4,563.2 L648.1,564.5 L645.7,564.2 L644.4,563.2Z" fill="#ee4a2e"/><path d="M639.7,563.9 L641,564.2 L643,568.2 L644.4,571.6 L643.4,571.9 L641.3,568.2Z" fill="#ee4a2e"/><path d="M643,565.9 L644.4,566.2 L645.7,570.3 L645,571.6Z" fill="#ee4a2e"/><path d="M637,566.6 L638.7,566.9 L640,568.9 L638.7,569.6Z" fill="#ee4a2e"/><path d="M660.8,564.9 L662.2,564.9 L663.2,566.9 L662.2,567.6Z" fill="#ee4a2e"/><path d="M622.2,568.9 L623.9,568.6 L623.9,569.9 L622.5,569.9Z" fill="#ee4a2e"/><path d="M633.9,569.9 L635.6,570.3 L635,571.6 L633.9,571.3Z" fill="#ee4a2e"/><path d="M629.6,571.9 L631.6,570.9 L632.6,572.9 L630.9,573.9Z" fill="#ee4a2e"/><path d="M622.9,572.3 L624.5,571.9 L624.9,573.6 L623.5,575Z" fill="#ee4a2e"/><path d="M639,570.9 L641,571.3 L641.7,572.9 L639.7,572.6Z" fill="#ee4a2e"/><path d="M645.4,572.6 L647.1,572.6 L647.1,573.6 L645.7,573.6Z" fill="#ee4a2e"/><path d="M650.8,572.9 L653.4,572.3 L654.1,573.6 L652.4,574.6Z" fill="#ee4a2e"/><path d="M636.3,577.3 L638.7,577 L638.3,579.7 L636.6,581Z" fill="#ee4a2e"/><path d="M639.3,578.3 L643.7,578.7 L644,580.3 L641.7,581 L640.3,582.7 L639.3,582Z" fill="#ee4a2e"/><path d="M646.4,576.3 L649.1,575 L651.1,576.3 L653.8,577.3 L653.1,580.3 L649.1,583 L647.1,581.7 L646.1,579Z" fill="#ee4a2e"/><path d="M655.1,579 L658.5,577.6 L660.8,576 L662.2,576.6 L661.5,579.7 L659.2,581.7 L655.8,581.3Z" fill="#ee4a2e"/><path d="M641.3,586.1 L642.4,585 L643.7,586.4 L642.4,587.7Z" fill="#ee4a2e"/><path d="M642,575 L643,574.8 L643.2,575.6 L642.2,575.8Z" fill="#ee4a2e"/><path d="M646.4,565.9 L648.1,565.9 L647.7,566.9 L646.4,566.8Z" fill="#ee4a2e"/><path d="M1074.3,589.5 L1068.4,590 L1064.2,604.3 L1062.5,608.5 L1055,610.2 L1050.8,613.5 L1045.7,606.8 L1037.3,607.6 L1032.3,611.8 L1025.5,619.4 L1019.7,627.8 L1021.3,630.3 L1010.4,634.5 L998.7,640.4 L991.9,637.1 L986.1,633.7 L977.6,633.7 L974.3,629.5 L973.4,622.8 L977.6,615.2 L978.5,610.2 L972.6,606 L966.7,603.4 M1021.3,630.3 L1027.2,636.2 L1032.3,642.9 L1038.2,643.8 L1047.4,650.5 M991.4,638.2 L991.8,644 L986.4,649.1 L978.8,655 L982.2,658.3 L982.7,662.5 L985.5,665 L986.4,670.1 L990.6,676 L988.1,681 L986.4,686.1 L982.2,686.1 L976.3,691.1 L979.7,696.1 L973.8,700.3 L972.9,706.2 L976.3,712.9 L982.2,718.8 L983,728.1 L978,730.6 L973.8,735.6 L962.9,737.3 L964.5,743.2 L967.1,748.2 L964.5,753.3 L965.4,760 M983,724.7 L989.7,721.3 L996.5,723 L1001.5,728.1 L999.8,733.1 L1002.4,735.6 L1009.9,734.8 L1019.2,733.1 M987.7,680 L986.1,686.7 L978.5,689.2 L976,693.4 L979.3,696.8 L973.4,700.2 L973.4,706.9 L978.5,713.6 L982.7,720.3 L983.5,725.4 L989.4,721.2 L996.1,722.9 L1001.2,727.9 L999.5,733.8 L1002,735.5 L1018,733.8 M983.5,725.4 L982.7,729.6 L974.3,732.9 L971.8,736.3 L963.4,738 L966.7,747.2 L964.2,753.9 L968.4,762.4 L974.3,771.6 L970.9,772.4 L968.4,780.8 L963.4,782.5 L962.5,787.6 L960,790.1 M960,822 L962.5,823.7 L963.4,834.6 L960,838.8 M963.4,835.5 L970.1,832.1 L975.1,831.3 L976.8,834.6 L972.6,853.1 L980.2,853.9 L983.5,857.3 L992.8,853.1 L993.6,847.2 L1002,841.3 L1006.2,851.4 L998.7,856.5 L1002,860.7 L996.1,873.3 L995.3,880 M1055.8,880 L1060.8,873.3 L1067.6,878.3 M953.9,800 L952.3,810.1 L956.5,812.6 L957.3,817.6 L962.4,823.5 L963.5,836.1 M963.5,836.1 L971.6,831.1 L975.8,831.1 L977.5,835.3 L973.3,854.6 L979.2,853.8 L983.4,857.1 L987.6,850.4 L992.6,849.6 L994.3,846.2 L1001,841.2 L1006.1,852.9 L999.3,856.3 L1001,859.7 L997.6,867.2 L996,873.9 L996.8,885.7 L1002.7,888.2 L1008.6,895 L1006.9,903.4 M963.5,836.1 L957.3,841.2 L950.6,846.2 L938,852.9 L928.7,855.5 L922,852.9 L910.3,854.6 L901.8,854.6 L896.8,858 L890.1,852.1 L885,845.4 L880,839.5 M896.8,858 L901.8,860.5 L901,865.5 L905.2,867.2 L906.1,864.7 L911.1,869.7 L914.5,866.4 L917.8,878.2 L920.3,879 L918.7,882.4 L924.5,887.4 M1008.6,895.8 L1021.2,890.8 L1027.1,892.1 L1034.6,889.9 L1037.1,889.1 M1045.5,907.6 L1046.4,901.7 L1056.5,899.2 L1061.5,895 L1059.8,890.8 L1062.4,889.1 L1062.4,882.4 L1056.5,880.7 L1060.7,873.1 L1064.9,875.6 L1068.2,879 M620,812.5 L635.1,818.4 L642.7,826 L651.9,826 L658.7,821.8 L664.5,826.8 L678,832.7 L683.9,825.1 L683,820.1 L686.4,813.4 L688.1,810 M678,832.7 L678.8,837.7 L685.5,843.6 L675.5,850.3 L672.1,847.8 L664.5,852 L656.1,849.5 L646.9,849.5 L645.2,846.1 L636,846.1 L631.8,851.2 L627.6,858.7 L620,865.5 M675.5,850.3 L678,854.5 L677.1,859.6 L688.9,862.9 L695.6,868.8 L700.7,870.5 L701.5,874.7 L696.5,878.9 L696.5,883.9 L704,887.3 L701.5,892.4 L699,900.8 L683.9,903.3 L672.9,907.5 L664.5,910 L662,901.6 L645.2,898.2 L640.2,893.2 L630.1,889 L620,886.5 M672.9,907.5 L674.6,926 M699,900.8 L703.2,910.8 L699,915.9 M796.5,810 L799,820.1 L793.9,831.8 L793.1,841.9 L798.2,850.3 L796.5,857.9 L800.7,860.4 L798.2,868.8 L783.9,864.6 L783.9,870.5 L777.1,887.3 L769.6,880.6 L767.9,883.9 L759.5,885.6 L756.1,892.4 L758.7,900.8 L752.8,909.2 L753.6,919.2 L746.9,926.8 L751.9,932.7 L756.1,934.4 M623.4,931 L635.1,928.5 L646.1,924.8 L650.3,929.3 L655.3,935.2 L660.3,930.7 L674.6,926.8 L680.5,932.7 L684.7,938.6 L684.7,949.5 L683,954.5 L678,955.4 L673.8,959.6 L668.7,962.1 L664.5,963.8 M683,954.5 L687.2,948.7 L695.6,950.8 L697.3,952.9 M699,915.9 L702.4,920.1 L712.4,919.2 L716.6,927.6 L721.7,938.6 L715.8,947.8 L711.6,953.7 L708.2,954.5 L707.1,959.6 L700.7,960.4 L698.2,962.1 L693.9,962.1 L693.1,957.9 L697.3,952.9 L701.5,947.8 L700.7,939.4 L702,934.4 L700.7,927.6 L697.6,928.5 L699.8,922.6 L699,915.9 M711.6,954.2 L716.6,957.1 L727.6,956.2 L734.3,952 L737.6,947 L741.8,939.4 L756.1,934.4 L763.7,937.7 L772.1,940.3 L770.4,946.1 L771.3,949.5 M700.7,962.1 L704.9,977.2 M772.1,940.3 L778.8,936.1 L782.2,940.3 L789.7,943.6 L796.5,945.3 L804.9,952.9 L810.8,954.9 L815,951.2 M786.7,780 L790.9,787.6 L789.2,798.5 L805.2,801 L806.1,805.2 L810.3,807.7 L816.1,819.5 L819.5,822 L817.8,826.2 L824.5,832.9 L824.5,852.3 L827.1,856.5 L839.7,848.1 L843.9,851.4 L847.2,846.4 L848.9,838.8 L853.9,830.4 L862.4,829.6 L867.4,835.5 L874.1,832.9 L882.5,846.4 L875.8,848.1 L875,853.9 L880.8,859 L880,865.7 L871.6,867.4 M805.2,801 L796.8,805.2 L796,817 L799.3,820.3 L797.6,828.7 L792.6,837.1 L792.6,843.9 L797.6,850.6 L796.8,857.3 L801,862.4 L797.6,869.1 L787.6,864 L782.5,866.6 L780,876.6 M882.5,846.4 L887.6,852.3 L896,858.2 L901,855.6 L912.8,853.9 L921.2,852.3 L928.7,854.8 L938.8,853.1 L949.7,847.2 L963.2,837.1 L975.8,830.4 L976.6,835.5 L973.3,854.8 L980,853.9 M896,858.2 L901,863.2 L902.7,867.4 L906.9,864.9 L910.3,869.1 L914.5,866.6 L917,875.8 L920.3,878.3 L917.8,880.8 L923.7,886.7 M969.9,780 L964,782.5 L963.2,787.6 L953.9,793.4 L953.1,810.3 L956.5,811.9 L955.6,817.8 L962.4,822.9 L964,836.3 M780,937.1 L785,941.3 L796,945.5 L805.2,951.4 L810.3,954.8 L814.5,951.4 L820.3,941.3 L827.9,931.3 L833.8,922.9 L835.5,912.8 L832.1,901 L832.1,892.6 L828.7,887.6 L833.8,880.8 L843,879.2 L843.9,876.6 L850.6,876.6 L852.3,875 L853.9,877.5 L862.4,875.8 L866.6,868.2 L870.8,864.9 L871.6,867.4 L870.8,872.4 L874.1,880 L880.8,885.9 L885.9,889.2 L885,893.4 L878.3,900.2 L871.6,910.3 L875.8,914.5 L876.6,917.8 L871.6,924.5 L865.7,928.7 L861.5,932.9 L857.3,938.8 L852.3,941.3 L844.7,944.7 L843,948.1 L844.7,951.4 L842.2,954.8 L845.5,955.6 L842.2,962.4 M666.9,718.7 L671.1,725.4 L669.4,732.1 L662.7,739.7 L667.7,748.1 L674.5,748.1 L677,757.3 L671.9,766.6 L673.6,775.8 L677.8,790.9 L680.3,791.8 L682,802.7 L687.1,805.2 L687.1,812.8 L682.9,820.3 L684.5,826.2 L677.8,833.8 L680.3,839.7 L685.4,843 L676.1,848.9 L677.8,854.8 L677,860.7 L689.6,863.2 L696.3,869.9 L700.5,870.8 L701.3,874.1 L696.3,880 M640,823.7 L651.8,826.2 L658.5,821.2 L665.2,827.1 L671.9,828.7 L677.8,833.8 M640,845.5 L645.9,848.1 L656.8,848.9 L663.5,852.3 L671.9,847.2 L676.1,848.9 M782,688.4 L785.4,697.6 L792.1,706.1 L798,714.5 L790.4,723.7 L788.7,733.8 L782.9,735.5 L776.1,742.2 L782.9,746.4 L786.2,765.7 L782.9,770.8 L786.2,774.1 L787.9,780.8 L791.3,787.6 L788.7,792.6 L789.6,799.3 L803.9,801 M803.9,801 L797.1,805.2 L796.3,817.8 L799.7,820.3 L798,831.3 L793.8,836.3 L792.1,843.9 L798,849.7 L796.3,858.2 L800.5,861.5 L798.8,868.2 L790.4,864.9 L783.7,864 L784.5,869.9 L777.8,880 M803.9,801 L805.5,804.4 L802.2,806.1 L809.7,807.7 L813.9,817.8 L818.2,821.2 L819,827.1 L825.7,832.1 L824.9,848.1 L827.4,856.5 L840,848.9 M538,731.1 L557.3,740.3 L579.2,750.4 L587.6,747.9 L598.5,742 L601,738.7 L601.8,732.8 M601,744.5 L599.3,749.6 L589.2,758 L574.1,766.4 L564,772.3 L562.4,769.7 L556.5,775.6 L550.6,784.9 L544.7,800.8 L539.7,805 M539.7,805 L536.3,814.3 L528.7,822.7 L525.4,825.2 L527.1,832.8 L522.9,839.5 L515.3,844.5 L511.1,846.2 L505.2,849.6 L503.5,854.6 L506.1,859.7 L514.5,862.2 M539.7,805 L546.4,804.2 L551.4,810.9 L556.5,819.3 L554.8,829.4 L557.3,836.1 L561.5,842.9 L564,853.8 M564,853.8 L562.4,858.8 L553.9,860.5 L551.4,869.7 L549.7,874.8 M574.1,766.4 L571.6,780.7 L576.6,784 L587.6,786.6 L591.8,792.4 L596,795 L604.4,794.1 L609.4,799.2 L613.6,810.1 L619.5,811.8 L634.6,817.6 L643.9,826.1 L653.1,825.2 L658.2,821.8 L663.2,826.1 L673.3,830.3 L679.2,834.5 M564,853.8 L577.5,848.7 L587.6,842.9 L596.8,847.1 L601.8,854.6 L606.9,862.2 L617,867.2 M617,867.2 L622,861.3 L628.7,858 L634.6,846.2 L645.5,846.2 L647.2,848.7 L658.2,847.9 L664.9,848.7 L672.4,847.1 L678.3,849.6 L677.5,857.1 L680,861.3 M618.7,884.9 L631.3,888.2 L641.3,893.3 L643.9,900 M480,821 L493.4,823.5 L491.8,832.8 L486.7,842 L490.1,847.9 L496.8,851.3 L501.8,856.3 L511.9,862.2 L514.5,860.5 L530.4,869.7 M494.3,871.4 L497.6,868.9 L501.8,871.4 L511.1,870.6 L509.4,875.6 L503.5,876.5 L497.6,878.2 L494.3,873.1 L494.3,871.4 M480,849.6 L490.1,847.9 M514.5,862.2 L511.1,870.6 M501.8,884.9 L495.1,900 M524.9,885.7 L530.8,870.6 L536.6,868.1 L540.8,870.6 L544.2,873.1 L548.4,870.6 L550.9,879 L557.6,884.9 L565.2,891.6 L566.1,892.4 M581.5,897.5 L586.2,885.7 L590.4,882.4 L589.2,874.8 L587.1,870.6 L587.1,866.4 L591.3,863 L593.8,868.9 L606.4,871.4 L615.6,868.9 L619,884 L619.8,891.6 L616.5,896.6 L611.4,900.8 L612.3,910.9 L610.6,920.2 M406.2,707.1 L413.6,725.2 L419,726.6 L422.4,725.2 L427.7,733.3 L435.8,733.9 L441.2,737.3 M453.3,713.8 L448.6,716.5 L446.6,720.5 L447,727.2 L443.9,733.3 L441.2,737.3 L437.8,744.7 L439.8,748.7 L446.6,756.8 L453.3,761.5 L458,766.2 L460.7,767.6 L464,766.2 L466.1,768.9 L469.4,768.9 L472.8,772.9 L475.5,777 M503.7,717.8 L510.4,730.6 L519.8,730.6 L540,729.9 M519.8,730.6 L517.1,738 L517.8,746.7 L514.5,750.1 L505.7,747.4 L498.3,741.3 L493.6,740.7 L491.6,743.4 L494.3,750.1 L493.6,756.8 L489.6,759.5 L487.6,764.9 L489.6,767.6 L494.3,764.2 L499,764.2 L500.3,766.9 L496.3,774.3 L491.6,779.7 L486.2,781 L481.5,780.3 L480.2,779 L475.5,777 M380,728.6 L386.7,730.6 L396.1,729.9 L400.2,736.6 L403.5,737.3 L408.2,748.7 M427.7,733.3 L423,735.3 L418.3,740 L414.3,745.4 L408.2,748.7 L406.9,752.1 L408.9,756.1 M380,751.4 L388.1,752.8 L394.1,750.1 L400.2,754.1 L402.2,756.1 L408.9,756.1 L415.6,760.8 L416.3,764.9 L421.7,767.6 L425.7,767.6 L427.7,778.3 M416.3,764.9 L411.6,768.9 L408.9,772.9 L408.2,778.3 L405.5,781.7 M427.7,778.3 L421.7,783 L419.7,786.4 M427.7,778.3 L436.5,777 L443.2,778.3 L449.9,783.7 L454.6,787.7 L462,789.7 L467.4,787.7 L469.4,782.4 L472.8,780.3 L475.5,777 M475.5,777 L480.2,779.7 L479.5,786.4 L477.5,792.4 L480.2,799.8 L478.2,802.5 L482.2,801.8 L487.6,798.5 L498.3,800.5 L503.7,805.9 L499.7,811.9 L498.3,820 M498.3,800.5 L499,795.1 L505.7,794.5 L509.1,798.5 L515.8,801.2 L526.6,800.5 L533.3,801.8 L540,804.5 M467.4,787.7 L466.1,792.4 L466.7,795.8 L459.3,799.2 L454.6,801.2 L447.2,798.5 L443.2,796.5 L435.1,798.5 L431.8,799.8 M454.4,667.8 L458.6,670.3 L460.7,672.9 L461.1,675.8 L463.2,676.1 M381.6,716.1 L382.1,729.2 L379.1,732.5 L377.4,739.2 L372.4,746 L367.3,754.4 L363.9,756.1 M372.4,746 L379.9,749.7 M363.9,756.1 L366.5,763.6 L370.7,768.7 L377.4,769.5 L381.6,774.5 M362.3,758.6 L363.9,756.1 M351.3,780.4 L353.9,782.1 L362.3,782.1 L360.6,786.3 L358.9,795.5 L353,803.1 L348,801.4 M362.3,782.1 L370.7,779.6 L379.1,777.9 L381.6,774.5 M362.3,782.1 L364.8,786.3 L369,788 L379.1,788.8 L383.3,791.3 L385.5,792.2 M358.9,795.5 L366.5,798.9 L372.4,795.5 L379.1,793.9 L384.1,798.1 L386.6,799.7 M340.4,782.1 L343.8,784.3 L351.3,782.1 M494.5,817.3 L485.2,819 L477.6,825.7 L472.6,826.6 L467.6,837.5 M380.2,779.5 L385.2,774.5 L390.3,775.3 L396.1,778.7 L404,781.2 L402.9,788.7 L402,793.8 L404,800.5 L396.1,803 L390.3,804.7 L388.2,798.8 L386.9,791.3 L384.9,786.2 L381,782 L380.2,779.5 M360,800.5 L365,798.8 L368.4,800.5 L370.1,807.2 L370.9,812.3 L366.7,815.6 L360,814.8 M410.4,788.7 L414.6,786.2 L421.3,788.7 L427.2,789.6 L432.3,795.5 L434.8,798 L424.7,802.2 L421.3,798 L416.3,794.6 L410.4,788.7 M383.5,812.3 L389.4,805.5 L402,803.9 L404.5,804.7 L410.4,814.8 L406.2,819.8 L400.3,823.2 L391.1,821.5 L385.2,819 L383.5,812.3 M365,819 L371.8,814.8 L381.8,813.9 L385.2,819.8 L381,827.4 L379.3,833.3 L370.1,825.7 L365,819 M380.2,835 L381.8,825.7 L390.3,821.5 L400.3,823.5 L397.8,830.8 L398.7,839.2 L388.6,844.2 L380.2,835 M433.1,829.9 L436.5,823.2 L444,822 L447.4,827.4 L446.6,833.3 L442.4,836.6 L434.8,836.6 L433.1,829.9 M424.7,840.8 L430.6,837.5 L434.8,841.7 L442.4,844.2 L449.1,850.9 L444,856 L439,852.6 L432.3,853.4 L428.9,860.2 L419.7,855.1 L424.7,849.2 L424.7,840.8 M438.2,839.2 L444,833.3 L459.2,829.1 L464.2,832.4 L467.6,842.5 L477.6,840.8 L480.2,850.9 L472.6,855.1 L470.9,860.2 L467.6,865.2 L462.5,857.6 L459.2,852.6 L454.1,854.3 L450.8,847.6 L445.7,842.5 L438.2,839.2 M410.4,814.8 L415.5,810.6 L423.9,807.2 L433.9,802.2 L444,799.7 L452.4,802.2 L459.2,808.1 L454.1,810.6 L449.1,813.9 L448.2,819 L444,822 M424.7,802.2 L433.9,802.2 M459.2,808.1 L464.2,803.9 L469.2,795.5 L467.6,788.7 M448.2,819 L454.1,817.3 L462.5,819.8 L465,827.4 L464.2,832.4 M462.5,819.8 L470.9,813.9 L477.6,825.7 M400.3,823.5 L405.4,829.1 L413.8,834.1 L420.5,837.5 L424.7,840.8 M398.7,839.2 L407.1,847.6 L419.7,855.1 L428.9,860.2 L433.9,872.8 L437.3,879.5 M388.6,844.2 L387.7,850.9 L395.3,857.6 L398.7,867.7 L405.4,878.7 M360,854.3 L370.1,849.2 L378.5,850.9 L387.7,850.9 M428.9,860.2 L433.9,854.3 L444,856 M467.6,865.2 L462.5,867.7 L454.1,874.5 L444,879.5 L439.8,882.9 M467.6,865.2 L470.1,877.8 L471.8,887.9 L476,891.3 L476,901.3 L474.3,908.1 M476,891.3 L484.4,901.3 L492.8,903.9 L494.5,908.1 L497,913.1 M494.5,908.1 L499.5,898 L502.9,887.9 L509.6,882.9 L507.9,877 M304,876.5 L308.7,879 L315.5,876.5 L322.2,873.9 L323,870.6 L327.2,870.6 L329.7,873.9 L333.9,879 L337.3,890.8 L336.5,894.1 L332.3,895 L330.6,900.8 L328.9,907.6 L329.7,911.8 L328.9,916 L327.2,921 L323,921.8 M316.3,909.2 L320.5,908.4 L324.7,910.9 L329.2,911.3 M312.9,887.4 L316.3,885.7 L318.8,888.2 L323,889.9 L325.5,894.1 L323,897.5 L324.7,900.8 L320.5,902.5 L318,906.7 L314.6,906.7 L312.9,903.4 L316.3,899.2 L318,895 L314.6,891.6 L312.9,887.4 M332.3,895 L339,894.1 L345.7,896.6 L350.8,899.2 L354.1,907.6 L357.5,917.6 L358.3,924.4 L351.6,928.6 L348.2,931.9 L342.4,931.1 L339,926.1 L330.6,920.2 L327.2,921 M340.7,894.1 L347.4,892.4 L351.6,899.2 L355,901.7 L359.2,899.2 L365.9,894.1 L369.2,890.8 L376,889.1 L377.6,889.9 L389.4,890.8 M377.6,889.9 L380.2,897.5 L381,903.4 L384.4,904.2 L383.5,914.3 L376,916 L375.1,920.2 L372.6,925.2 L371.8,928.6 M358.3,924.4 L360.8,926.1 L363.9,930.3 M328.9,932.8 L333.9,931.9 L339,932.8 L338.7,939.5 M339,932.8 L340.3,933.1 L347.4,932.4 L351.6,934.5 L358.3,924.4 M340.7,942.9 L347.4,937.8 L352.1,936.5 L356.1,938.7 L354.1,942.9 L351.6,946.2 L342.4,947.9 M325.5,924.4 L330.6,920.2 M333.9,879 L340.7,887.4 L347.4,892.4 M358.3,855.5 L367.6,857.1 L370.1,855.5 L368.4,865.5 L365.9,870.6 L367.6,873.9 L360.8,875.6 L360,884 L364.2,894.1 L365.9,894.1 M370.1,855.5 L377.6,850.4 L384.4,852.1 L387.7,850.4 M387.7,850.4 L392.8,855.5 L396.1,860.5 L399.5,870.6 L405.9,878.7 M387.7,850.4 L386.1,845.4 L381,837 L374.3,828.6 L367.6,826.1 L365,825.2 L360.8,827.7 M365,825.2 L369.2,820.2 L377.6,813.4 L381.8,816.8 L386.1,820.2 M342.4,820.2 L347.4,819.3 L355.8,822.7 L360.8,827.7 L360.8,833.6 L358.3,840.3 L355,845.4 M347.4,800.8 L354.1,805 L360.8,813.4 L364.2,816.8 L365,825.2 M387.7,850.4 L394.5,845.4 L402.9,850.4 L411.3,855.5 L419.7,853.8 L428.1,860.5 L436.5,879 M386.1,820.2 L391.1,816.8 L399.5,821.8 L404.5,826.9 L400.3,833.6 L401.2,842 L394.5,845.4" fill="none" stroke="#fff" stroke-width="1.250" stroke-linejoin="round" stroke-linecap="round"/></svg>
<svg class="abs" style="left:0;top:1200px" width="1190" height="552" viewBox="0 1200 1190 552" font-family="Liberation Sans, sans-serif"><rect x="120.8" y="1212" width="26" height="419" fill="#f9fafc"/><rect x="151.8" y="1212" width="26" height="419" fill="#f9fafc"/><rect x="182.8" y="1212" width="26" height="419" fill="#f9fafc"/><rect x="213.8" y="1212" width="26" height="419" fill="#f9fafc"/><rect x="244.8" y="1212" width="26" height="419" fill="#f9fafc"/><rect x="275.8" y="1212" width="26" height="419" fill="#f9fafc"/><rect x="306.8" y="1212" width="26" height="419" fill="#f9fafc"/><rect x="337.8" y="1212" width="26" height="419" fill="#f9fafc"/><rect x="368.8" y="1212" width="26" height="419" fill="#f9fafc"/><rect x="399.8" y="1212" width="26" height="419" fill="#f9fafc"/><rect x="430.8" y="1212" width="26" height="419" fill="#f9fafc"/><rect x="461.8" y="1212" width="26" height="419" fill="#f9fafc"/><rect x="492.8" y="1212" width="26" height="419" fill="#f9fafc"/><rect x="523.8" y="1212" width="26" height="419" fill="#f9fafc"/><rect x="554.8" y="1212" width="26" height="419" fill="#f9fafc"/><rect x="585.8" y="1212" width="26" height="419" fill="#f9fafc"/><rect x="616.8" y="1212" width="26" height="419" fill="#f9fafc"/><rect x="647.8" y="1212" width="26" height="419" fill="#f9fafc"/><rect x="678.8" y="1212" width="26" height="419" fill="#f9fafc"/><rect x="709.8" y="1212" width="26" height="419" fill="#f9fafc"/><rect x="740.8" y="1212" width="26" height="419" fill="#f9fafc"/><rect x="771.8" y="1212" width="26" height="419" fill="#f9fafc"/><rect x="802.8" y="1212" width="26" height="419" fill="#f9fafc"/><rect x="833.8" y="1212" width="26" height="419" fill="#f9fafc"/><rect x="864.8" y="1212" width="26" height="419" fill="#f9fafc"/><rect x="895.8" y="1212" width="26" height="419" fill="#f9fafc"/><rect x="926.8" y="1212" width="26" height="419" fill="#f9fafc"/><rect x="957.8" y="1212" width="26" height="419" fill="#f9fafc"/><rect x="988.8" y="1212" width="26" height="419" fill="#f9fafc"/><rect x="1019.8" y="1212" width="26" height="419" fill="#f9fafc"/><rect x="1050.8" y="1212" width="26" height="419" fill="#f9fafc"/><rect x="1081.8" y="1212" width="26" height="419" fill="#f9fafc"/><line x1="103.700" x2="1122" y1="1631.00" y2="1631.00" stroke="#d6d9dd" stroke-width="1" stroke-dasharray="3 1.200"/><line x1="103.700" x2="1122" y1="1611.05" y2="1611.05" stroke="#d6d9dd" stroke-width="1" stroke-dasharray="3 1.200"/><line x1="103.700" x2="1122" y1="1591.10" y2="1591.10" stroke="#d6d9dd" stroke-width="1" stroke-dasharray="3 1.200"/><line x1="103.700" x2="1122" y1="1571.15" y2="1571.15" stroke="#d6d9dd" stroke-width="1" stroke-dasharray="3 1.200"/><line x1="103.700" x2="1122" y1="1551.20" y2="1551.20" stroke="#d6d9dd" stroke-width="1" stroke-dasharray="3 1.200"/><line x1="103.700" x2="1122" y1="1531.25" y2="1531.25" stroke="#d6d9dd" stroke-width="1" stroke-dasharray="3 1.200"/><line x1="103.700" x2="1122" y1="1511.30" y2="1511.30" stroke="#d6d9dd" stroke-width="1" stroke-dasharray="3 1.200"/><line x1="103.700" x2="1122" y1="1491.35" y2="1491.35" stroke="#d6d9dd" stroke-width="1" stroke-dasharray="3 1.200"/><line x1="103.700" x2="1122" y1="1471.40" y2="1471.40" stroke="#d6d9dd" stroke-width="1" stroke-dasharray="3 1.200"/><line x1="103.700" x2="1122" y1="1451.45" y2="1451.45" stroke="#d6d9dd" stroke-width="1" stroke-dasharray="3 1.200"/><line x1="103.700" x2="1122" y1="1431.50" y2="1431.50" stroke="#d6d9dd" stroke-width="1" stroke-dasharray="3 1.200"/><line x1="103.700" x2="1122" y1="1411.55" y2="1411.55" stroke="#d6d9dd" stroke-width="1" stroke-dasharray="3 1.200"/><line x1="103.700" x2="1122" y1="1391.60" y2="1391.60" stroke="#d6d9dd" stroke-width="1" stroke-dasharray="3 1.200"/><line x1="103.700" x2="1122" y1="1371.65" y2="1371.65" stroke="#d6d9dd" stroke-width="1" stroke-dasharray="3 1.200"/><line x1="103.700" x2="1122" y1="1351.70" y2="1351.70" stroke="#d6d9dd" stroke-width="1" stroke-dasharray="3 1.200"/><line x1="103.700" x2="1122" y1="1331.75" y2="1331.75" stroke="#d6d9dd" stroke-width="1" stroke-dasharray="3 1.200"/><line x1="103.700" x2="1122" y1="1311.80" y2="1311.80" stroke="#d6d9dd" stroke-width="1" stroke-dasharray="3 1.200"/><line x1="103.700" x2="1122" y1="1291.85" y2="1291.85" stroke="#d6d9dd" stroke-width="1" stroke-dasharray="3 1.200"/><line x1="103.700" x2="1122" y1="1271.90" y2="1271.90" stroke="#d6d9dd" stroke-width="1" stroke-dasharray="3 1.200"/><line x1="103.700" x2="1122" y1="1251.95" y2="1251.95" stroke="#d6d9dd" stroke-width="1" stroke-dasharray="3 1.200"/><line x1="103.700" x2="1122" y1="1232.00" y2="1232.00" stroke="#d6d9dd" stroke-width="1" stroke-dasharray="3 1.200"/><line x1="103.700" x2="1122" y1="1212.05" y2="1212.05" stroke="#d6d9dd" stroke-width="1" stroke-dasharray="3 1.200"/><rect x="430.8" y="1537.3" width="26" height="93.5" fill="#ee4a2e"/><rect x="523.8" y="1615.3" width="26" height="15.5" fill="#f3962e"/><rect x="554.8" y="1594.1" width="26" height="36.7" fill="#ee4a2e"/><rect x="585.8" y="1612.9" width="26" height="17.9" fill="#f3962e"/><rect x="616.8" y="1586.7" width="26" height="44.1" fill="#ee4a2e"/><rect x="647.8" y="1551.1" width="26" height="79.7" fill="#ee4a2e"/><rect x="678.8" y="1506.7" width="26" height="124.1" fill="#ee4a2e"/><rect x="709.8" y="1470.8" width="26" height="160.0" fill="#ee4a2e"/><rect x="740.8" y="1506.7" width="26" height="124.1" fill="#ee4a2e"/><rect x="771.8" y="1441.8" width="26" height="189.0" fill="#ee4a2e"/><rect x="802.8" y="1380.2" width="26" height="250.6" fill="#ee4a2e"/><rect x="833.8" y="1281.2" width="26" height="349.6" fill="#ee4a2e"/><rect x="864.8" y="1451.8" width="26" height="179.0" fill="#ee4a2e"/><rect x="895.8" y="1492.0" width="26" height="138.8" fill="#ee4a2e"/><rect x="926.8" y="1582.4" width="26" height="48.4" fill="#ee4a2e"/><rect x="957.8" y="1608.8" width="26" height="22.0" fill="#f3962e"/><rect x="988.8" y="1610.0" width="26" height="20.8" fill="#f3962e"/><rect x="1019.8" y="1620.3" width="26" height="10.5" fill="#f3962e"/><rect x="1050.8" y="1628.0" width="26" height="2.8" fill="#a9cf38"/><rect x="1081.8" y="1628.2" width="26" height="2.6" fill="#a9cf38"/><text transform="translate(138.4,1644.200) rotate(-65) scale(0.872,1)" text-anchor="end" font-size="13.700" fill="#a4a4a4">1700 - 1709</text><text transform="translate(169.4,1644.200) rotate(-65) scale(0.872,1)" text-anchor="end" font-size="13.700" fill="#a4a4a4">1710 - 1719</text><text transform="translate(200.4,1644.200) rotate(-65) scale(0.872,1)" text-anchor="end" font-size="13.700" fill="#a4a4a4">1720 - 1729</text><text transform="translate(231.4,1644.200) rotate(-65) scale(0.872,1)" text-anchor="end" font-size="13.700" fill="#a4a4a4">1730 - 1739</text><text transform="translate(262.4,1644.200) rotate(-65) scale(0.872,1)" text-anchor="end" font-size="13.700" fill="#a4a4a4">1740 - 1749</text><text transform="translate(293.4,1644.200) rotate(-65) scale(0.872,1)" text-anchor="end" font-size="13.700" fill="#a4a4a4">1750 - 1759</text><text transform="translate(324.4,1644.200) rotate(-65) scale(0.872,1)" text-anchor="end" font-size="13.700" fill="#a4a4a4">1760 - 1769</text><text transform="translate(355.4,1644.200) rotate(-65) scale(0.872,1)" text-anchor="end" font-size="13.700" fill="#a4a4a4">1770 - 1779</text><text transform="translate(386.4,1644.200) rotate(-65) scale(0.872,1)" text-anchor="end" font-size="13.700" fill="#a4a4a4">1780 - 1789</text><text transform="translate(417.4,1644.200) rotate(-65) scale(0.872,1)" text-anchor="end" font-size="13.700" fill="#a4a4a4">1790 - 1799</text><text transform="translate(448.4,1644.200) rotate(-65) scale(0.872,1)" text-anchor="end" font-size="13.700" fill="#a4a4a4">1800 - 1809</text><text transform="translate(479.4,1644.200) rotate(-65) scale(0.872,1)" text-anchor="end" font-size="13.700" fill="#a4a4a4">1810 - 1819</text><text transform="translate(510.4,1644.200) rotate(-65) scale(0.872,1)" text-anchor="end" font-size="13.700" fill="#a4a4a4">1820 - 1829</text><text transform="translate(541.4,1644.200) rotate(-65) scale(0.872,1)" text-anchor="end" font-size="13.700" fill="#a4a4a4">1830 - 1839</text><text transform="translate(572.4,1644.200) rotate(-65) scale(0.872,1)" text-anchor="end" font-size="13.700" fill="#a4a4a4">1840 - 1849</text><text transform="translate(603.4,1644.200) rotate(-65) scale(0.872,1)" text-anchor="end" font-size="13.700" fill="#a4a4a4">1850 - 1859</text><text transform="translate(634.4,1644.200) rotate(-65) scale(0.872,1)" text-anchor="end" font-size="13.700" fill="#a4a4a4">1860 - 1869</text><text transform="translate(665.4,1644.200) rotate(-65) scale(0.872,1)" text-anchor="end" font-size="13.700" fill="#a4a4a4">1870 - 1879</text><text transform="translate(696.4,1644.200) rotate(-65) scale(0.872,1)" text-anchor="end" font-size="13.700" fill="#a4a4a4">1880 - 1889</text><text transform="translate(727.4,1644.200) rotate(-65) scale(0.872,1)" text-anchor="end" font-size="13.700" fill="#a4a4a4">1890 - 1899</text><text transform="translate(758.4,1644.200) rotate(-65) scale(0.872,1)" text-anchor="end" font-size="13.700" fill="#a4a4a4">1900 - 1909</text><text transform="translate(789.4,1644.200) rotate(-65) scale(0.872,1)" text-anchor="end" font-size="13.700" fill="#a4a4a4">1910 - 1919</text><text transform="translate(820.4,1644.200) rotate(-65) scale(0.872,1)" text-anchor="end" font-size="13.700" fill="#a4a4a4">1920 - 1929</text><text transform="translate(851.4,1644.200) rotate(-65) scale(0.872,1)" text-anchor="end" font-size="13.700" fill="#a4a4a4">1930 - 1939</text><text transform="translate(882.4,1644.200) rotate(-65) scale(0.872,1)" text-anchor="end" font-size="13.700" fill="#a4a4a4">1940 - 1949</text><text transform="translate(913.4,1644.200) rotate(-65) scale(0.872,1)" text-anchor="end" font-size="13.700" fill="#a4a4a4">1950 - 1959</text><text transform="translate(944.4,1644.200) rotate(-65) scale(0.872,1)" text-anchor="end" font-size="13.700" fill="#a4a4a4">1960 - 1969</text><text transform="translate(975.4,1644.200) rotate(-65) scale(0.872,1)" text-anchor="end" font-size="13.700" fill="#a4a4a4">1970 - 1979</text><text transform="translate(1006.4,1644.200) rotate(-65) scale(0.872,1)" text-anchor="end" font-size="13.700" fill="#a4a4a4">1980 - 1989</text><text transform="translate(1037.4,1644.200) rotate(-65) scale(0.872,1)" text-anchor="end" font-size="13.700" fill="#a4a4a4">1990 - 1999</text><text transform="translate(1068.4,1644.200) rotate(-65) scale(0.872,1)" text-anchor="end" font-size="13.700" fill="#a4a4a4">2000 - 2009</text><text transform="translate(1099.4,1644.200) rotate(-65) scale(0.872,1)" text-anchor="end" font-size="13.700" fill="#a4a4a4">2010 - 2018</text><text transform="translate(45.200,1437) rotate(-90)" text-anchor="middle" font-size="14" font-weight="700" fill="#8c8c8c">Процент аварийных МКД, %</text></svg>
<span class="t" id="t0" style="top:1.14px;font-size:27px;color:#111;-webkit-text-stroke:0.3px;left:9.80px;transform-origin:0 50%;transform:scaleX(0.8578);">Анализ технического состояния многоквартирных домов</span>
<span class="t" id="t1" style="top:44.35px;font-size:14px;color:#999;left:9.20px;transform-origin:0 50%;transform:scaleX(1.0012);">Данные по информации, размещенной в ГИС ЖКХ, по состоянию на 17.07.2018 06:21 (МСК, UTC + 3)</span>
<span class="t" id="t2" style="top:94.96px;font-size:16px;color:#111;font-weight:700;left:34.89px;transform-origin:0 50%;transform:scaleX(0.8115);">ПАРАМЕТРЫ ФИЛЬТРАЦИИ</span>
<span class="t" id="t3" style="top:156.13px;font-size:14.5px;color:#111;-webkit-text-stroke:0.3px;left:230.20px;transform-origin:0 50%;transform:scaleX(0.8396);">Анализ информации о проценте износа МКД</span>
<span class="t" id="t4" style="top:156.13px;font-size:14.5px;color:#111;-webkit-text-stroke:0.3px;left:530.20px;transform-origin:0 50%;transform:scaleX(0.8405);">Анализ информации об исправности МКД</span>
<span class="t" id="t5" style="top:199.23px;font-size:14.5px;color:#111;-webkit-text-stroke:0.3px;left:24.50px;transform-origin:0 50%;transform:scaleX(0.8382);">Способ управления</span>
<span class="t" id="t6" style="top:200.84px;font-size:12px;color:#bdbdbd;left:218.60px;transform-origin:0 50%;transform:scaleX(1.0006);">Выберите один или несколько способов управления</span>
<span class="t" id="t7" style="top:273.23px;font-size:14.5px;color:#111;-webkit-text-stroke:0.3px;left:23.64px;transform-origin:0 50%;transform:scaleX(0.8569);">Год ввода в эксплуатацию</span>
<span class="t" id="t8" style="top:247.80px;font-size:13px;color:#fff;left:213.40px;transform-origin:50% 50%;transform:translateX(-50%) scaleX(1.0000);">1700</span>
<span class="t" id="t9" style="top:247.80px;font-size:13px;color:#fff;left:1147.50px;transform-origin:50% 50%;transform:translateX(-50%) scaleX(1.0000);">2018</span>
<span class="t" id="t10" style="top:300.06px;font-size:16px;color:#111;font-weight:700;left:213.00px;transform-origin:50% 50%;transform:translateX(-50%) scaleX(1.0000);">1700</span>
<span class="t" id="t11" style="top:300.06px;font-size:16px;color:#111;font-weight:700;left:306.40px;transform-origin:50% 50%;transform:translateX(-50%) scaleX(1.0000);">1800</span>
<span class="t" id="t12" style="top:300.06px;font-size:16px;color:#111;font-weight:700;left:399.80px;transform-origin:50% 50%;transform:translateX(-50%) scaleX(1.0000);">1900</span>
<span class="t" id="t13" style="top:300.06px;font-size:16px;color:#111;font-weight:700;left:960.40px;transform-origin:50% 50%;transform:translateX(-50%) scaleX(1.0000);">2000</span>
<span class="t" id="t14" style="top:298.40px;font-size:13px;color:#999;left:493.30px;transform-origin:50% 50%;transform:translateX(-50%) scaleX(1.0000);">1950</span>
<span class="t" id="t15" style="top:298.40px;font-size:13px;color:#999;left:586.70px;transform-origin:50% 50%;transform:translateX(-50%) scaleX(1.0000);">1960</span>
<span class="t" id="t16" style="top:298.40px;font-size:13px;color:#999;left:680.10px;transform-origin:50% 50%;transform:translateX(-50%) scaleX(1.0000);">1970</span>
<span class="t" id="t17" style="top:298.40px;font-size:13px;color:#999;left:773.60px;transform-origin:50% 50%;transform:translateX(-50%) scaleX(1.0000);">1980</span>
<span class="t" id="t18" style="top:298.40px;font-size:13px;color:#999;left:867.00px;transform-origin:50% 50%;transform:translateX(-50%) scaleX(1.0000);">1990</span>
<span class="t" id="t19" style="top:298.40px;font-size:13px;color:#999;left:1054.30px;transform-origin:50% 50%;transform:translateX(-50%) scaleX(1.0000);">2010</span>
<span class="t" id="t20" style="top:298.40px;font-size:13px;color:#999;left:1147.70px;transform-origin:50% 50%;transform:translateX(-50%) scaleX(1.0000);">2018</span>
<span class="t" id="t21" style="top:375.86px;font-size:46px;color:#157dd9;font-weight:700;left:130.81px;transform-origin:0 50%;transform:scaleX(0.9970);">13 296</span>
<span class="t" id="t22" style="top:375.86px;font-size:46px;color:#555;font-weight:700;left:273.48px;transform-origin:0 50%;transform:scaleX(1.0092);">(1.50%)</span>
<span class="t" id="t23" style="top:437.76px;font-size:18px;color:#222;left:132.30px;transform-origin:0 50%;transform:scaleX(1.0039);">МКД в аварийном состоянии</span>
<span class="t" id="t24" style="top:375.86px;font-size:46px;color:#157dd9;font-weight:700;left:614.61px;transform-origin:0 50%;transform:scaleX(0.9933);">889 206</span>
<span class="t" id="t25" style="top:375.86px;font-size:46px;color:#555;font-weight:700;left:790.97px;transform-origin:0 50%;transform:scaleX(1.0129);">(60.46%)</span>
<span class="t" id="t26" style="top:438.26px;font-size:18px;color:#222;left:615.80px;transform-origin:0 50%;transform:scaleX(0.9977);">МКД, по которым в Системе размещена</span>
<span class="t" id="t27" style="top:462.76px;font-size:18px;color:#222;left:615.80px;transform-origin:0 50%;transform:scaleX(1.0036);">информация об исправности</span>
<span class="t" id="t28" style="top:539.01px;font-size:17px;color:#222;-webkit-text-stroke:0.3px;left:59.27px;transform-origin:0 50%;transform:scaleX(0.8283);">Процент аварийных МКД</span>
<span class="t" id="t29" style="top:575.35px;font-size:14px;color:#555;font-weight:700;left:96.80px;transform-origin:0 50%;transform:scaleX(0.8266);">до 0.10%</span>
<span class="t" id="t30" style="top:602.35px;font-size:14px;color:#555;font-weight:700;left:96.80px;transform-origin:0 50%;transform:scaleX(0.8657);">0.10 - 0.19%</span>
<span class="t" id="t31" style="top:629.35px;font-size:14px;color:#555;font-weight:700;left:96.80px;transform-origin:0 50%;transform:scaleX(0.8657);">0.20 - 0.60%</span>
<span class="t" id="t32" style="top:656.35px;font-size:14px;color:#555;font-weight:700;left:96.80px;transform-origin:0 50%;transform:scaleX(0.8151);">более 0.60%</span>
<span class="t" id="t33" style="top:683.35px;font-size:14px;color:#777;-webkit-text-stroke:0.3px;left:96.80px;transform-origin:0 50%;transform:scaleX(0.8910);">данные отсутствуют</span>
<span class="t" id="t34" style="top:1065.53px;font-size:14.5px;color:#111;-webkit-text-stroke:0.3px;left:248.60px;transform-origin:0 50%;transform:scaleX(0.8468);">Административно-территориальное деление</span>
<span class="t" id="t35" style="top:1065.53px;font-size:14.5px;color:#111;-webkit-text-stroke:0.3px;left:561.16px;transform-origin:0 50%;transform:scaleX(0.8404);">Муниципальное деление</span>
<span class="t" id="t36" style="top:1093.15px;font-size:14px;color:#111;-webkit-text-stroke:0.3px;left:29.80px;transform-origin:0 50%;transform:scaleX(0.8676);">Отображать информацию</span>
<span class="t" id="t37" style="top:1107.15px;font-size:14px;color:#111;-webkit-text-stroke:0.3px;left:29.80px;transform-origin:0 50%;transform:scaleX(0.8732);">по территории</span>
<span class="t" id="t38" style="top:1103.50px;font-size:13px;color:#7d7d7d;left:224.49px;transform-origin:0 50%;transform:scaleX(0.9058);">Введите одну или несколько территорий</span>
<span class="t" id="t39" style="top:1177.18px;font-size:22px;color:#111;font-weight:700;left:303.19px;transform-origin:0 50%;transform:scaleX(0.8133);">ПРОЦЕНТ АВАРИЙНЫХ МКД ПО ГОДУ ВВОДА В ЭКСПЛУАТАЦИЮ</span>
<span class="t" id="t40" style="top:1622.85px;font-size:14px;color:#9a9a9a;left:91.09px;transform-origin:100% 50%;transform:translateX(-100%) scaleX(1.0000);">0</span>
<span class="t" id="t41" style="top:1582.95px;font-size:14px;color:#9a9a9a;left:91.09px;transform-origin:100% 50%;transform:translateX(-100%) scaleX(1.0000);">1</span>
<span class="t" id="t42" style="top:1543.05px;font-size:14px;color:#9a9a9a;left:91.09px;transform-origin:100% 50%;transform:translateX(-100%) scaleX(1.0000);">2</span>
<span class="t" id="t43" style="top:1503.15px;font-size:14px;color:#9a9a9a;left:91.09px;transform-origin:100% 50%;transform:translateX(-100%) scaleX(1.0000);">3</span>
<span class="t" id="t44" style="top:1463.25px;font-size:14px;color:#9a9a9a;left:91.09px;transform-origin:100% 50%;transform:translateX(-100%) scaleX(1.0000);">4</span>
<span class="t" id="t45" style="top:1423.35px;font-size:14px;color:#9a9a9a;left:91.09px;transform-origin:100% 50%;transform:translateX(-100%) scaleX(1.0000);">5</span>
<span class="t" id="t46" style="top:1383.45px;font-size:14px;color:#9a9a9a;left:91.09px;transform-origin:100% 50%;transform:translateX(-100%) scaleX(1.0000);">6</span>
<span class="t" id="t47" style="top:1343.55px;font-size:14px;color:#9a9a9a;left:91.09px;transform-origin:100% 50%;transform:translateX(-100%) scaleX(1.0000);">7</span>
<span class="t" id="t48" style="top:1303.65px;font-size:14px;color:#9a9a9a;left:91.09px;transform-origin:100% 50%;transform:translateX(-100%) scaleX(1.0000);">8</span>
<span class="t" id="t49" style="top:1263.75px;font-size:14px;color:#9a9a9a;left:91.09px;transform-origin:100% 50%;transform:translateX(-100%) scaleX(1.0000);">9</span>
<span class="t" id="t50" style="top:1223.85px;font-size:14px;color:#9a9a9a;left:91.09px;transform-origin:100% 50%;transform:translateX(-100%) scaleX(1.0000);">10</span>
<span class="t" id="t51" style="top:1718.45px;font-size:14px;color:#8c8c8c;font-weight:700;left:501.80px;transform-origin:0 50%;transform:scaleX(0.9968);">Год ввода в эксплуатацию</span>
</body></html>
